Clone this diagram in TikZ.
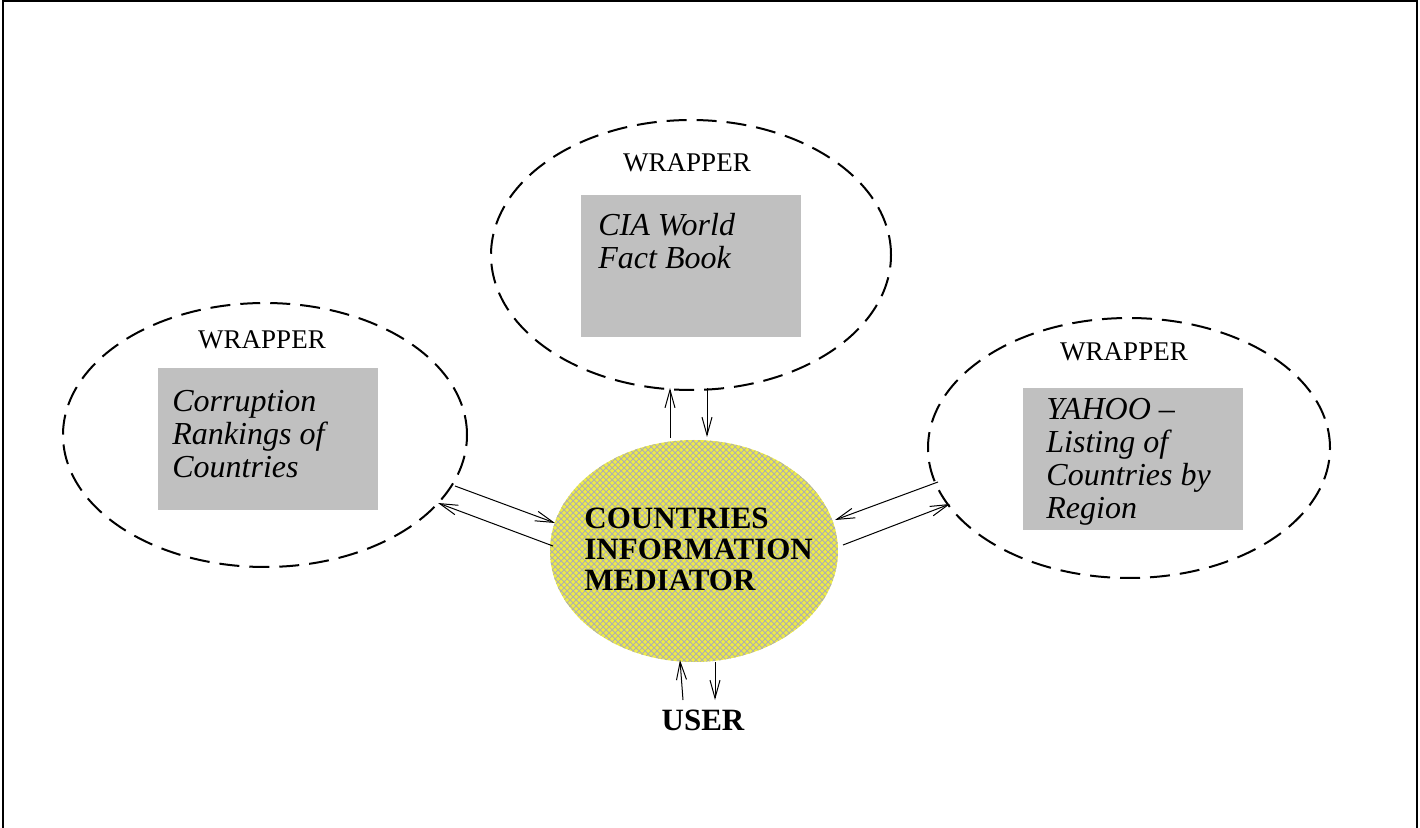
\documentclass[tikz,border=0pt]{standalone}
\usepackage{fontspec}
\setmainfont{Liberation Serif}
\usetikzlibrary{shapes.geometric,patterns,arrows.meta}
\definecolor{boxgray}{RGB}{192,192,192}
\definecolor{medyellow}{RGB}{238,236,70}
\definecolor{hatchgray}{RGB}{175,175,175}
\tikzset{
  wrapper/.style={draw, ellipse, line width=1pt, dash pattern=on 10pt off 5pt, inner sep=0pt},
  srcbox/.style={fill=boxgray, draw=none, inner sep=0pt},
  srctext/.style={font=\fontsize{16}{16.5}\selectfont\itshape, align=left, anchor=west, inner sep=0pt},
  wraplabel/.style={font=\fontsize{13.5}{15}\selectfont, inner sep=0pt},
  link/.style={line width=0.5pt, -{Straight Barb[length=9pt,width=5pt]}},
}
\begin{document}
\begin{tikzpicture}[x=0.5pt,y=-0.5pt]
\useasboundingbox (0,0) rectangle (1420,828);
\draw[line width=1pt] (3,828) -- (3,1) -- (1417,1) -- (1417,828);

% wrappers
\node[wrapper, minimum width=200pt, minimum height=135pt] (wtop) at (691,255) {};
\node[wrapper, minimum width=202pt, minimum height=132pt] (wleft) at (265,435) {};
\node[wrapper, minimum width=201pt, minimum height=130pt] (wright) at (1129,448) {};

% source boxes
\node[srcbox, minimum width=110pt, minimum height=71pt] (btop) at (691,266) {};
\node[srcbox, minimum width=110pt, minimum height=71pt] (bleft) at (268,439) {};
\node[srcbox, minimum width=110pt, minimum height=71pt] (bright) at (1133,459) {};

\node[srctext] (ttop) at (598,241) {CIA World\\Fact Book};
\node[srctext] (tleft) at (172,434) {Corruption\\Rankings of\\Countries};
\node[srctext] (tright) at (1046,462) {YAHOO --\\Listing of\\Countries by\\Region};

\node[wraplabel] (ltop) at (687,163) {WRAPPER};
\node[wraplabel] (lleft) at (262,340) {WRAPPER};
\node[wraplabel] (lright) at (1124,352) {WRAPPER};

% mediator
\node[ellipse, minimum width=144pt, minimum height=111pt, inner sep=0pt,
      preaction={fill=medyellow}, pattern=crosshatch, pattern color=hatchgray] (med) at (694,551) {};
\node[font=\fontsize{15.5}{15.5}\selectfont\bfseries, align=left, anchor=west, inner sep=0pt] (medtext) at (584,549) {COUNTRIES\\INFORMATION\\MEDIATOR};

\node[font=\fontsize{15.5}{16}\selectfont\bfseries, inner sep=0pt] (user) at (703,720) {USER};

% connector endpoints
\coordinate (t1a) at (670,438); \coordinate (t1b) at (670,388);
\coordinate (t2a) at (707,388); \coordinate (t2b) at (707,437);
\coordinate (l1a) at (455,486); \coordinate (l1b) at (555,523);
\coordinate (l2a) at (553,546); \coordinate (l2b) at (438,503);
\coordinate (r1a) at (938,482); \coordinate (r1b) at (835,520);
\coordinate (r2a) at (843,545); \coordinate (r2b) at (950,504);
\coordinate (u1a) at (683,700); \coordinate (u1b) at (680,660);
\coordinate (u2a) at (715,662); \coordinate (u2b) at (715,700);

\draw[link] (t1a) -- (t1b);
\draw[link] (t2a) -- (t2b);
\draw[link] (l1a) -- (l1b);
\draw[link] (l2a) -- (l2b);
\draw[link] (r1a) -- (r1b);
\draw[link] (r2a) -- (r2b);
\draw[link] (u1a) -- (u1b);
\draw[link] (u2a) -- (u2b);
\end{tikzpicture}
\end{document}
